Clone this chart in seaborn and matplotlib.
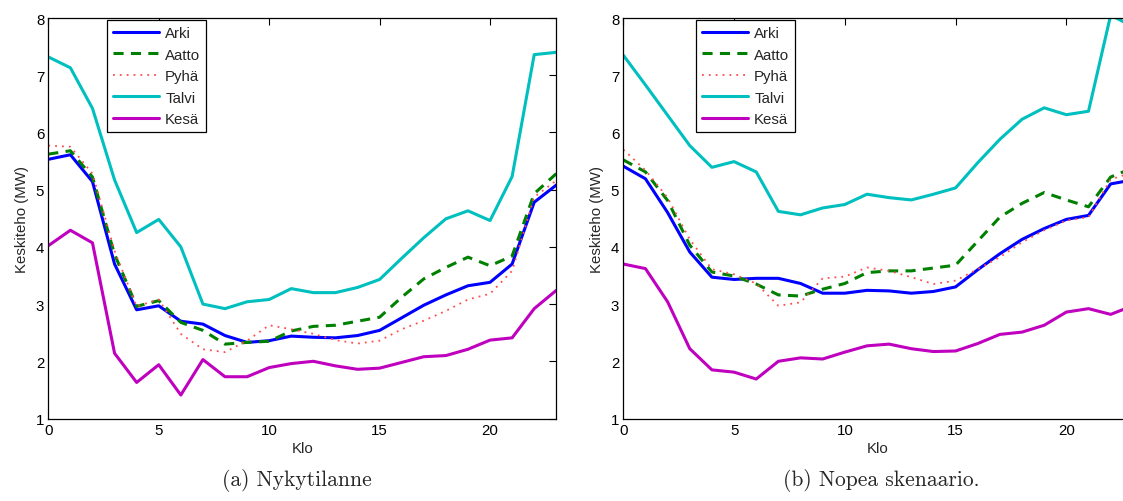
import seaborn as sns
import matplotlib.pyplot as plt

hours = list(range(24))
series_names = ["Arki", "Aatto", "Pyhä", "Talvi", "Kesä"]

# (a) Nykytilanne
arki_a = [5.53, 5.61, 5.14, 3.70, 2.90, 2.97, 2.70, 2.65, 2.45, 2.33, 2.36, 2.44,
          2.42, 2.41, 2.45, 2.54, 2.76, 2.98, 3.16, 3.32, 3.38, 3.70, 4.78, 5.08]
aatto_a = [5.62, 5.68, 5.22, 3.87, 2.96, 3.06, 2.68, 2.54, 2.30, 2.33, 2.35, 2.53,
           2.61, 2.63, 2.70, 2.77, 3.12, 3.44, 3.64, 3.82, 3.67, 3.84, 4.93, 5.28]
pyha_a = [5.77, 5.75, 5.28, 3.93, 2.96, 3.08, 2.48, 2.21, 2.16, 2.36, 2.63, 2.56,
          2.48, 2.37, 2.31, 2.36, 2.56, 2.71, 2.88, 3.08, 3.18, 3.58, 4.87, 5.16]
talvi_a = [7.32, 7.13, 6.42, 5.17, 4.25, 4.48, 4.00, 3.00, 2.92, 3.04, 3.08, 3.27,
           3.20, 3.20, 3.29, 3.43, 3.80, 4.16, 4.49, 4.63, 4.46, 5.23, 7.36, 7.40]
kesa_a = [4.02, 4.29, 4.07, 2.14, 1.63, 1.94, 1.41, 2.03, 1.73, 1.73, 1.89, 1.96,
          2.00, 1.92, 1.86, 1.88, 1.98, 2.08, 2.10, 2.21, 2.37, 2.41, 2.92, 3.24]

# (b) Nopea skenaario
arki_b = [5.41, 5.19, 4.60, 3.91, 3.47, 3.43, 3.45, 3.45, 3.36, 3.19, 3.19, 3.24,
          3.23, 3.19, 3.22, 3.30, 3.60, 3.88, 4.13, 4.32, 4.48, 4.55, 5.10, 5.17]
aatto_b = [5.52, 5.31, 4.81, 4.03, 3.56, 3.49, 3.35, 3.16, 3.14, 3.26, 3.36, 3.55,
           3.58, 3.58, 3.63, 3.68, 4.10, 4.52, 4.76, 4.95, 4.82, 4.70, 5.22, 5.38]
pyha_b = [5.70, 5.34, 4.86, 4.13, 3.61, 3.52, 3.36, 2.97, 3.03, 3.45, 3.48, 3.64,
          3.58, 3.47, 3.35, 3.41, 3.61, 3.82, 4.08, 4.29, 4.46, 4.52, 5.18, 5.30]
talvi_b = [7.35, 6.83, 6.30, 5.77, 5.39, 5.49, 5.31, 4.62, 4.56, 4.68, 4.74, 4.92,
           4.86, 4.82, 4.92, 5.03, 5.47, 5.88, 6.23, 6.43, 6.31, 6.37, 8.05, 7.85]
kesa_b = [3.70, 3.62, 3.04, 2.22, 1.85, 1.81, 1.69, 2.00, 2.06, 2.04, 2.16, 2.27,
          2.30, 2.22, 2.17, 2.18, 2.31, 2.47, 2.51, 2.63, 2.86, 2.92, 2.82, 2.97]

captions = ["(a) Nykytilanne", "(b) Nopea skenaario."]

# line styles (MATLAB-like)
styles = {
    "Arki": dict(color=(0, 0, 1), lw=2.2, ls="-"),
    "Aatto": dict(color=(0, 0.5, 0), lw=2.2, ls=(0, (3.3, 2.4))),
    "Pyhä": dict(color=(1, 0.3, 0.3), lw=1.3, ls=(0, (1, 2.8))),
    "Talvi": dict(color=(0, 0.75, 0.75), lw=2.2, ls="-"),
    "Kesä": dict(color=(0.75, 0, 0.75), lw=2.2, ls="-"),
}

sns.set_style("white")
plt.rcParams['font.family'] = ['Liberation Sans', 'DejaVu Sans']
FS = 10.8

fig = plt.figure(figsize=(11.23, 5.02), dpi=100)
W, H = 1123, 502
ax_a = fig.add_axes([48.3 / W, (H - 419.5) / H, 508 / W, 400.5 / H])
ax_b = fig.add_axes([623.3 / W, (H - 419.5) / H, 509.5 / W, 400.5 / H])

panels = [
    (ax_a, [arki_a, aatto_a, pyha_a, talvi_a, kesa_a], 0.115, 297),
    (ax_b, [arki_b, aatto_b, pyha_b, talvi_b, kesa_b], 0.142, 881),
]

for (ax, data, leg_x, cap_x), cap in zip(panels, captions):
    for name, vals in zip(series_names, data):
        st = styles[name]
        sns.lineplot(x=hours, y=vals, ax=ax, color=st["color"], linewidth=st["lw"],
                     linestyle=st["ls"], label=name, errorbar=None)
    ax.set_xlim(0, 23)
    ax.set_ylim(1, 8)
    ax.set_xticks([0, 5, 10, 15, 20])
    ax.set_yticks(range(1, 9))
    ax.set_xlabel("Klo", fontsize=FS, labelpad=3)
    ax.set_ylabel("Keskiteho (MW)", fontsize=FS, labelpad=5)
    ax.tick_params(direction="in", top=True, right=True, length=5, width=0.8,
                   labelsize=FS, colors="black", pad=3)
    for sp in ax.spines.values():
        sp.set_visible(True)
        sp.set_color("black")
        sp.set_linewidth(0.9)
    leg = ax.legend(loc="upper left", bbox_to_anchor=(leg_x, 0.995), borderaxespad=0,
                    fancybox=False, framealpha=1, edgecolor="black", fontsize=FS,
                    handlelength=3.1, handletextpad=0.4, labelspacing=0.5,
                    borderpad=0.4)
    leg.get_frame().set_linewidth(0.9)
    fig.text(cap_x / W, 1 - 481 / H, cap, ha="center", va="center",
             fontsize=15.5, family="cmr10")

fig.savefig("out.png", dpi=100)
